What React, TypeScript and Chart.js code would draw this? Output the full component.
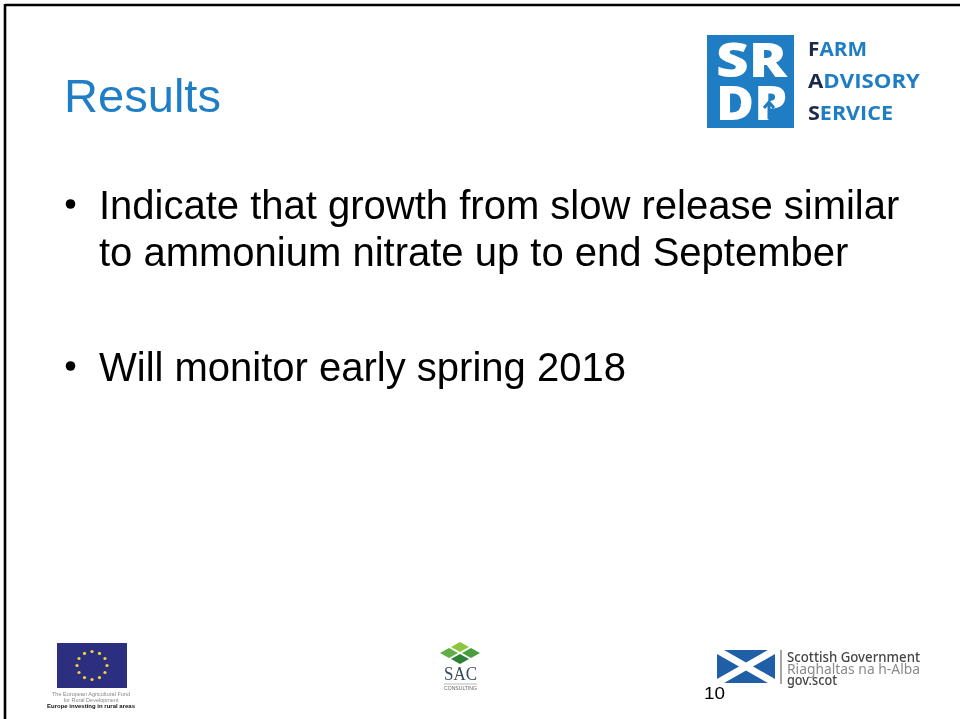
import React, { useEffect, useRef } from "react";
import { Chart, registerables } from "chart.js";

Chart.register(...registerables);

// ---- slide content (text data) ----
const TITLE = "Results";
const BULLET_1 = ["Indicate that growth from slow release similar", "to ammonium nitrate up to end September"];
const BULLET_2 = ["Will monitor early spring 2018"];
const BULLET_BASELINES_1 = [219, 266];
const BULLET_BASELINES_2 = [381];
const PAGE_NUMBER = "10";
const LOGO_LINES = [
  { first: "F", rest: "ARM", y: 56, w: 59 },
  { first: "A", rest: "DVISORY", y: 88, w: 112 },
  { first: "S", rest: "ERVICE", y: 120, w: 85 },
];
const GOV_LINES = [
  { text: "Scottish Government", y: 662, w: 133, color: "#454545", weight: 500 },
  { text: "Riaghaltas na h-Alba", y: 674, w: 133, color: "#8a8a8a", weight: 400 },
  { text: "gov.scot", y: 685, w: 50, color: "#454545", weight: 500 },
];
const EU_LINES = [
  { text: "The European Agricultural Fund", y: 696, w: 78, color: "#888", weight: 400 },
  { text: "for Rural Development", y: 702, w: 55, color: "#888", weight: 400 },
  { text: "Europe investing in rural areas", y: 708, w: 88, color: "#111", weight: 700 },
];
const EU_STAR_COUNT = 12;

const SANS = "'Liberation Sans', Arial, sans-serif";

export default function App() {
  const canvasRef = useRef<HTMLCanvasElement | null>(null);

  useEffect(() => {
    if (!canvasRef.current) return;
    const chart = new Chart(canvasRef.current, {
      type: "bar",
      data: { labels: [], datasets: [] },
      options: {
        animation: false,
        responsive: false,
        maintainAspectRatio: false,
        plugins: { legend: { display: false }, tooltip: { enabled: false }, title: { display: false } },
        scales: { x: { display: false }, y: { display: false } },
      },
    });
    return () => chart.destroy();
  }, []);

  const starAngles = Array.from({ length: EU_STAR_COUNT }, (_, i) => (i * 2 * Math.PI) / EU_STAR_COUNT);

  return (
    <div
      style={{
        position: "fixed",
        left: 0,
        top: 0,
        width: 960,
        height: 719,
        background: "#fff",
        overflow: "hidden",
      }}
    >
      <canvas ref={canvasRef} width={960} height={719} style={{ position: "absolute", left: 0, top: 0 }} />
      <svg width={960} height={719} style={{ position: "absolute", left: 0, top: 0 }}>
        {/* slide border */}
        <line x1={5} y1={5} x2={960} y2={5} stroke="#000" strokeWidth={2.6} />
        <line x1={5} y1={4} x2={5} y2={719} stroke="#000" strokeWidth={2.6} />

        {/* title */}
        <text x={64} y={112} fontSize={46} fill="#1f7ec5" fontFamily={SANS} textLength={157} lengthAdjust="spacingAndGlyphs">
          {TITLE}
        </text>

        {/* bullets */}
        <circle cx={70.5} cy={204} r={4.8} fill="#000" />
        {BULLET_1.map((t, i) => (
          <text key={t} x={99} y={BULLET_BASELINES_1[i]} fontSize={40} fill="#000" fontFamily={SANS}>
            {t}
          </text>
        ))}
        <circle cx={70.5} cy={366} r={4.8} fill="#000" />
        {BULLET_2.map((t, i) => (
          <text key={t} x={99} y={BULLET_BASELINES_2[i]} fontSize={40} fill="#000" fontFamily={SANS}>
            {t}
          </text>
        ))}

        {/* SRDP logo */}
        <rect x={707} y={35} width={87} height={93} fill="#1f7dc4" />
        <text x={716} y={77} fontSize={47} fontWeight={800} fill="#fff" fontFamily="'Open Sans', sans-serif" textLength={71} lengthAdjust="spacingAndGlyphs">
          SR
        </text>
        <text x={716} y={120} fontSize={47} fontWeight={800} fill="#fff" fontFamily="'Open Sans', sans-serif" textLength={71} lengthAdjust="spacingAndGlyphs">
          DP
        </text>
        <path d="M769 119 L769 104 M764 108 L769 102 L774 108" stroke="#1f7dc4" strokeWidth={3} fill="none" />
        {LOGO_LINES.map((l) => (
          <text key={l.rest} x={808} y={l.y} fontSize={20} fontWeight={700} fontFamily="'Open Sans', sans-serif" textLength={l.w} lengthAdjust="spacingAndGlyphs">
            <tspan fill="#1b2a48">{l.first}</tspan>
            <tspan fill="#1f7dc4">{l.rest}</tspan>
          </text>
        ))}

        {/* EU logo */}
        <rect x={57} y={643} width={70} height={45} fill="#2c2f80" />
        {starAngles.map((a, i) => (
          <circle key={i} cx={92 + 15 * Math.sin(a)} cy={665.5 - 14 * Math.cos(a)} r={1.6} fill="#f3d23a" />
        ))}
        {EU_LINES.map((l) => (
          <text key={l.text} x={91} y={l.y} textAnchor="middle" fontSize={5.5} fill={l.color} fontWeight={l.weight} fontFamily={SANS} textLength={l.w} lengthAdjust="spacingAndGlyphs">
            {l.text}
          </text>
        ))}

        {/* SAC logo */}
        <polygon points="460,642 469,647 460,652 451,647" fill="#8cc63f" />
        <polygon points="449,648 458,653 449,658 440,653" fill="#5fae46" />
        <polygon points="471,648 480,653 471,658 462,653" fill="#4b9e3e" />
        <polygon points="460,654 469,659 460,664 451,659" fill="#2f7f35" />
        <text x={444} y={680} fontSize={18} fill="#3b4b5e" fontFamily="'Liberation Serif', 'Times New Roman', serif" textLength={33} lengthAdjust="spacingAndGlyphs">
          SAC
        </text>
        <line x1={444} y1={684} x2={477} y2={684} stroke="#999" strokeWidth={0.7} />
        <text x={444} y={690} fontSize={4.5} fill="#666" fontFamily={SANS} textLength={33} lengthAdjust="spacingAndGlyphs">
          CONSULTING
        </text>

        {/* Scottish Government logo */}
        <clipPath id="flagclip">
          <rect x={717} y={650} width={58} height={33} />
        </clipPath>
        <rect x={717} y={650} width={58} height={33} fill="#1f5fa8" />
        <g clipPath="url(#flagclip)">
          <line x1={717} y1={650} x2={775} y2={683} stroke="#fff" strokeWidth={7} />
          <line x1={775} y1={650} x2={717} y2={683} stroke="#fff" strokeWidth={7} />
        </g>
        <line x1={781} y1={650} x2={781} y2={684} stroke="#777" strokeWidth={1.3} />
        {GOV_LINES.map((l) => (
          <text key={l.text} x={787} y={l.y} fontSize={13.5} fill={l.color} fontWeight={l.weight} fontFamily="'Noto Sans', sans-serif" textLength={l.w} lengthAdjust="spacingAndGlyphs">
            {l.text}
          </text>
        ))}

        {/* page number */}
        <text x={704} y={699} fontSize={17} fill="#000" fontFamily={SANS} textLength={21} lengthAdjust="spacingAndGlyphs">
          {PAGE_NUMBER}
        </text>
      </svg>
    </div>
  );
}
